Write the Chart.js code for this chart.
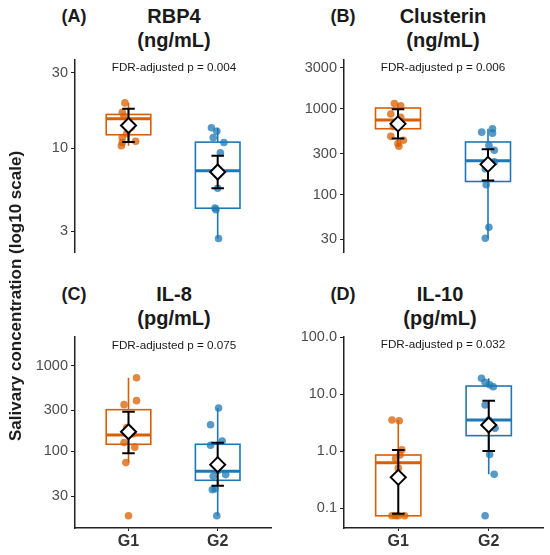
<!DOCTYPE html>
<html>
<head>
<meta charset="utf-8">
<script src="https://cdn.jsdelivr.net/npm/chart.js@4.4.1/dist/chart.umd.min.js"></script>
<style>
  body { margin: 0; background: #fff; width: 550px; height: 555px; position: relative; overflow: hidden;
         font-family: 'Liberation Sans', Arial, sans-serif; }
  canvas { position: absolute; }
  .txt { position: absolute; white-space: nowrap; transform: translate(-50%, -50%); color: #1a1a1a; }
  .tag { font-weight: bold; font-size: 18px; }
  .head { font-weight: bold; font-size: 20px; line-height: 24px; text-align: center; }
  .fdr { font-size: 11.7px; }
  .ytitle { font-weight: bold; font-size: 17px; transform: translate(-50%, -50%) rotate(-90deg); }
</style>
</head>
<body>
<canvas id="panelA" width="275" height="201" style="left:0;top:55px"></canvas>
<canvas id="panelB" width="275" height="201" style="left:275px;top:55px"></canvas>
<canvas id="panelC" width="275" height="225" style="left:0;top:330px"></canvas>
<canvas id="panelD" width="275" height="225" style="left:275px;top:330px"></canvas>

<div class="txt tag" style="left:74px;top:16px">(A)</div>
<div class="txt head" style="left:174px;top:28px">RBP4<br>(ng/mL)</div>
<div class="txt fdr" style="left:174px;top:66px">FDR-adjusted p = 0.004</div>

<div class="txt tag" style="left:343px;top:16px">(B)</div>
<div class="txt head" style="left:443px;top:28px">Clusterin<br>(ng/mL)</div>
<div class="txt fdr" style="left:443px;top:66px">FDR-adjusted p = 0.006</div>

<div class="txt tag" style="left:74px;top:294px">(C)</div>
<div class="txt head" style="left:174px;top:306px">IL-8<br>(pg/mL)</div>
<div class="txt fdr" style="left:174px;top:344px">FDR-adjusted p = 0.075</div>

<div class="txt tag" style="left:343px;top:294px">(D)</div>
<div class="txt head" style="left:440px;top:306px">IL-10<br>(pg/mL)</div>
<div class="txt fdr" style="left:443px;top:343px">FDR-adjusted p = 0.032</div>

<div class="txt ytitle" style="left:16px;top:296px">Salivary concentration (log10 scale)</div>

<script>
const groups = ['G1', 'G2'];
const groupLines = ['#D95F02', '#1F78B4'];
const groupDots = ['rgba(217,95,2,0.75)', 'rgba(31,120,180,0.75)'];

// RBP4 (ng/mL)
const rbp4Points = [
  [19.4, 16.9, 15.9, 14.8, 13.6, 12.4, 11.7, 11.1, 10.9, 10.4],
  [13.5, 12.85, 11.7, 10.9, 9.4, 7.3, 5.6, 4.2, 4.1, 2.7]
];
const rbp4Jitter = [
  [-0.04, -0.07, -0.05, 0.0, 0.03, -0.02, -0.07, 0.08, -0.07, -0.08],
  [-0.07, -0.01, -0.05, 0.07, 0.03, 0.0, 0.0, -0.03, -0.02, 0.01]
];
// whisker low, q1, median, q3, whisker high
const rbp4Box = [[10.4, 12.2, 15.4, 16.4, 19.4], [2.7, 4.19, 7.24, 10.96, 13.5]];
// error low, mean, error high
const rbp4Mean = [[11.0, 13.95, 17.8], [5.6, 7.1, 9.0]];
const rbp4Ticks = [3, 10, 30];
const rbp4TickLabels = ['3', '10', '30'];

// Clusterin (ng/mL)
const clusterinPoints = [
  [1150, 1083, 869, 794, 700, 620, 477, 429, 393, 366],
  [584, 534, 520, 376, 329, 241, 200, 130, 41.5, 31]
];
const clusterinJitter = [
  [-0.04, 0.03, -0.08, 0.03, 0.0, -0.05, -0.08, 0.06, 0.0, 0.01],
  [0.05, -0.07, 0.05, 0.01, 0.07, 0.07, -0.03, -0.02, 0.01, -0.03]
];
const clusterinBox = [[366, 585, 741, 1020, 1150], [31, 142, 248, 410, 584]];
const clusterinMean = [[449, 667, 990], [146, 225, 338]];
const clusterinTicks = [30, 100, 300, 1000, 3000];
const clusterinTickLabels = ['30', '100', '300', '1000', '3000'];

// IL-8 (pg/mL)
const il8Points = [
  [720, 390, 350, 190, 160, 127, 112, 74, 17.8],
  [320, 204, 132, 118, 60, 53.6, 51.3, 36.7, 35.7, 17.8]
];
const il8Jitter = [
  [0.09, 0.09, -0.05, -0.02, 0.05, -0.05, 0.07, -0.03, 0.0],
  [0.01, -0.08, 0.05, -0.08, 0.0, 0.09, -0.05, -0.03, -0.06, -0.01]
];
const il8Box = [[74, 121, 155, 306, 720], [17.8, 46, 58.6, 121, 320]];
const il8Mean = [[95, 169, 290], [39.8, 70, 126]];
const il8Ticks = [30, 100, 300, 1000];
const il8TickLabels = ['30', '100', '300', '1000'];

// IL-10 (pg/mL)
const il10Points = [
  [3.5, 3.4, 1.05, 0.85, 0.74, 0.5, 0.073, 0.073, 0.073, 0.073],
  [18.9, 16, 14.5, 13.4, 6.4, 3.5, 2.5, 0.87, 0.39, 0.073]
];
const il10Jitter = [
  [-0.07, 0.01, 0.04, 0.02, -0.03, 0.0, -0.07, 0.0, 0.07, -0.03],
  [-0.08, -0.04, 0.01, 0.05, -0.04, 0.0, 0.07, 0.01, 0.06, -0.04]
];
const il10Box = [[0.073, 0.073, 0.62, 0.85, 3.5], [0.39, 1.86, 3.5, 13.8, 18.9]];
const il10Mean = [[0.079, 0.345, 1.04], [1.0, 2.86, 7.6]];
const il10Ticks = [0.1, 1, 10, 100];
const il10TickLabels = ['0.1', '1.0', '10.0', '100.0'];

const boxHalf = 0.25;
const capHalf = 0.07;

const boxPlugin = {
  id: 'boxes',
  beforeDatasetsDraw(chart, args, opts) {
    const { ctx } = chart;
    const x = chart.scales.x, y = chart.scales.y;
    opts.box.forEach((b, i) => {
      const cx = x.getPixelForValue(i + 1);
      const l = x.getPixelForValue(i + 1 - boxHalf), r = x.getPixelForValue(i + 1 + boxHalf);
      const [lo, q1, med, q3, hi] = b.map(v => y.getPixelForValue(v));
      ctx.save();
      ctx.strokeStyle = groupLines[i];
      ctx.lineWidth = 1.6;
      ctx.beginPath();
      ctx.moveTo(cx, lo); ctx.lineTo(cx, q1);
      ctx.moveTo(cx, q3); ctx.lineTo(cx, hi);
      ctx.stroke();
      ctx.strokeRect(l, q3, r - l, q1 - q3);
      ctx.lineWidth = 3;
      ctx.beginPath();
      ctx.moveTo(l, med); ctx.lineTo(r, med);
      ctx.stroke();
      ctx.restore();
    });
  },
  afterDatasetsDraw(chart, args, opts) {
    const { ctx } = chart;
    const x = chart.scales.x, y = chart.scales.y;
    opts.mean.forEach((m, i) => {
      const cx = x.getPixelForValue(i + 1);
      const cl = x.getPixelForValue(i + 1 - capHalf), cr = x.getPixelForValue(i + 1 + capHalf);
      const [lo, mid, hi] = m.map(v => y.getPixelForValue(v));
      ctx.save();
      ctx.strokeStyle = '#000';
      ctx.lineWidth = 2;
      ctx.beginPath();
      ctx.moveTo(cx, lo); ctx.lineTo(cx, hi);
      ctx.moveTo(cl, lo); ctx.lineTo(cr, lo);
      ctx.moveTo(cl, hi); ctx.lineTo(cr, hi);
      ctx.stroke();
      const d = 7.5;
      ctx.beginPath();
      ctx.moveTo(cx, mid - d); ctx.lineTo(cx + d, mid); ctx.lineTo(cx, mid + d); ctx.lineTo(cx - d, mid);
      ctx.closePath();
      ctx.fillStyle = '#fff';
      ctx.fill();
      ctx.stroke();
      ctx.restore();
    });
  }
};

function makePanel(id, points, jitter, box, mean, ticks, tickLabels, yMin, yMax, yWidth, pad, showX) {
  const datasets = points.map((vals, i) => ({
    label: groups[i],
    data: vals.map((v, j) => ({ x: i + 1 + jitter[i][j], y: v })),
    backgroundColor: groupDots[i],
    borderWidth: 0,
    pointRadius: 3.8,
    pointHoverRadius: 3.8
  }));

  new Chart(document.getElementById(id), {
    type: 'scatter',
    data: { datasets },
    plugins: [boxPlugin],
    options: {
      responsive: false,
      animation: false,
      layout: { padding: pad },
      plugins: {
        legend: { display: false },
        tooltip: { enabled: false },
        boxes: { box, mean }
      },
      scales: {
        x: {
          type: 'linear',
          min: 0.4,
          max: 2.6,
          display: showX,
          afterBuildTicks: s => { s.ticks = groups.map((g, i) => ({ value: i + 1 })); },
          afterFit: s => {
            s.height = showX ? 27 : 0;
            s.paddingLeft = 0; s.paddingRight = 0;
          },
          border: { display: true, color: '#222', width: 1.5 },
          grid: { drawOnChartArea: false, drawTicks: true, tickLength: 3, color: '#222' },
          ticks: {
            callback: v => groups[v - 1],
            autoSkip: false, maxRotation: 0, padding: 1,
            color: '#333', font: { family: 'Liberation Sans', size: 16, weight: 'bold' }
          }
        },
        y: {
          type: 'logarithmic',
          min: yMin,
          max: yMax,
          afterBuildTicks: s => { s.ticks = ticks.map(v => ({ value: v })); },
          afterFit: s => {
            s.width = yWidth;
            s.paddingTop = 0; s.paddingBottom = 0;
          },
          border: { display: true, color: '#222', width: 1.5 },
          grid: { drawOnChartArea: false, drawTicks: true, tickLength: 4, color: '#222' },
          ticks: {
            callback: (v, i) => tickLabels[i],
            autoSkip: false, padding: 3,
            color: '#4d4d4d', font: { family: 'Liberation Sans', size: 14.5 }
          }
        }
      }
    }
  });
}

document.addEventListener('DOMContentLoaded', function () {
  makePanel('panelA', rbp4Points, rbp4Jitter, rbp4Box, rbp4Mean, rbp4Ticks, rbp4TickLabels,
    2.21, 36.2, 75, { top: 5, right: 3, bottom: 0, left: 0 }, false);
  makePanel('panelB', clusterinPoints, clusterinJitter, clusterinBox, clusterinMean, clusterinTicks, clusterinTickLabels,
    21.3, 3700, 69, { top: 5, right: 8, bottom: 0, left: 0 }, false);
  makePanel('panelC', il8Points, il8Jitter, il8Box, il8Mean, il8Ticks, il8TickLabels,
    12.8, 2150, 75, { top: 7, right: 0, bottom: 0, left: 0 }, true);
  makePanel('panelD', il10Points, il10Jitter, il10Box, il10Mean, il10Ticks, il10TickLabels,
    0.0446, 100, 69, { top: 7, right: 7, bottom: 0, left: 0 }, true);
});
</script>
</body>
</html>
